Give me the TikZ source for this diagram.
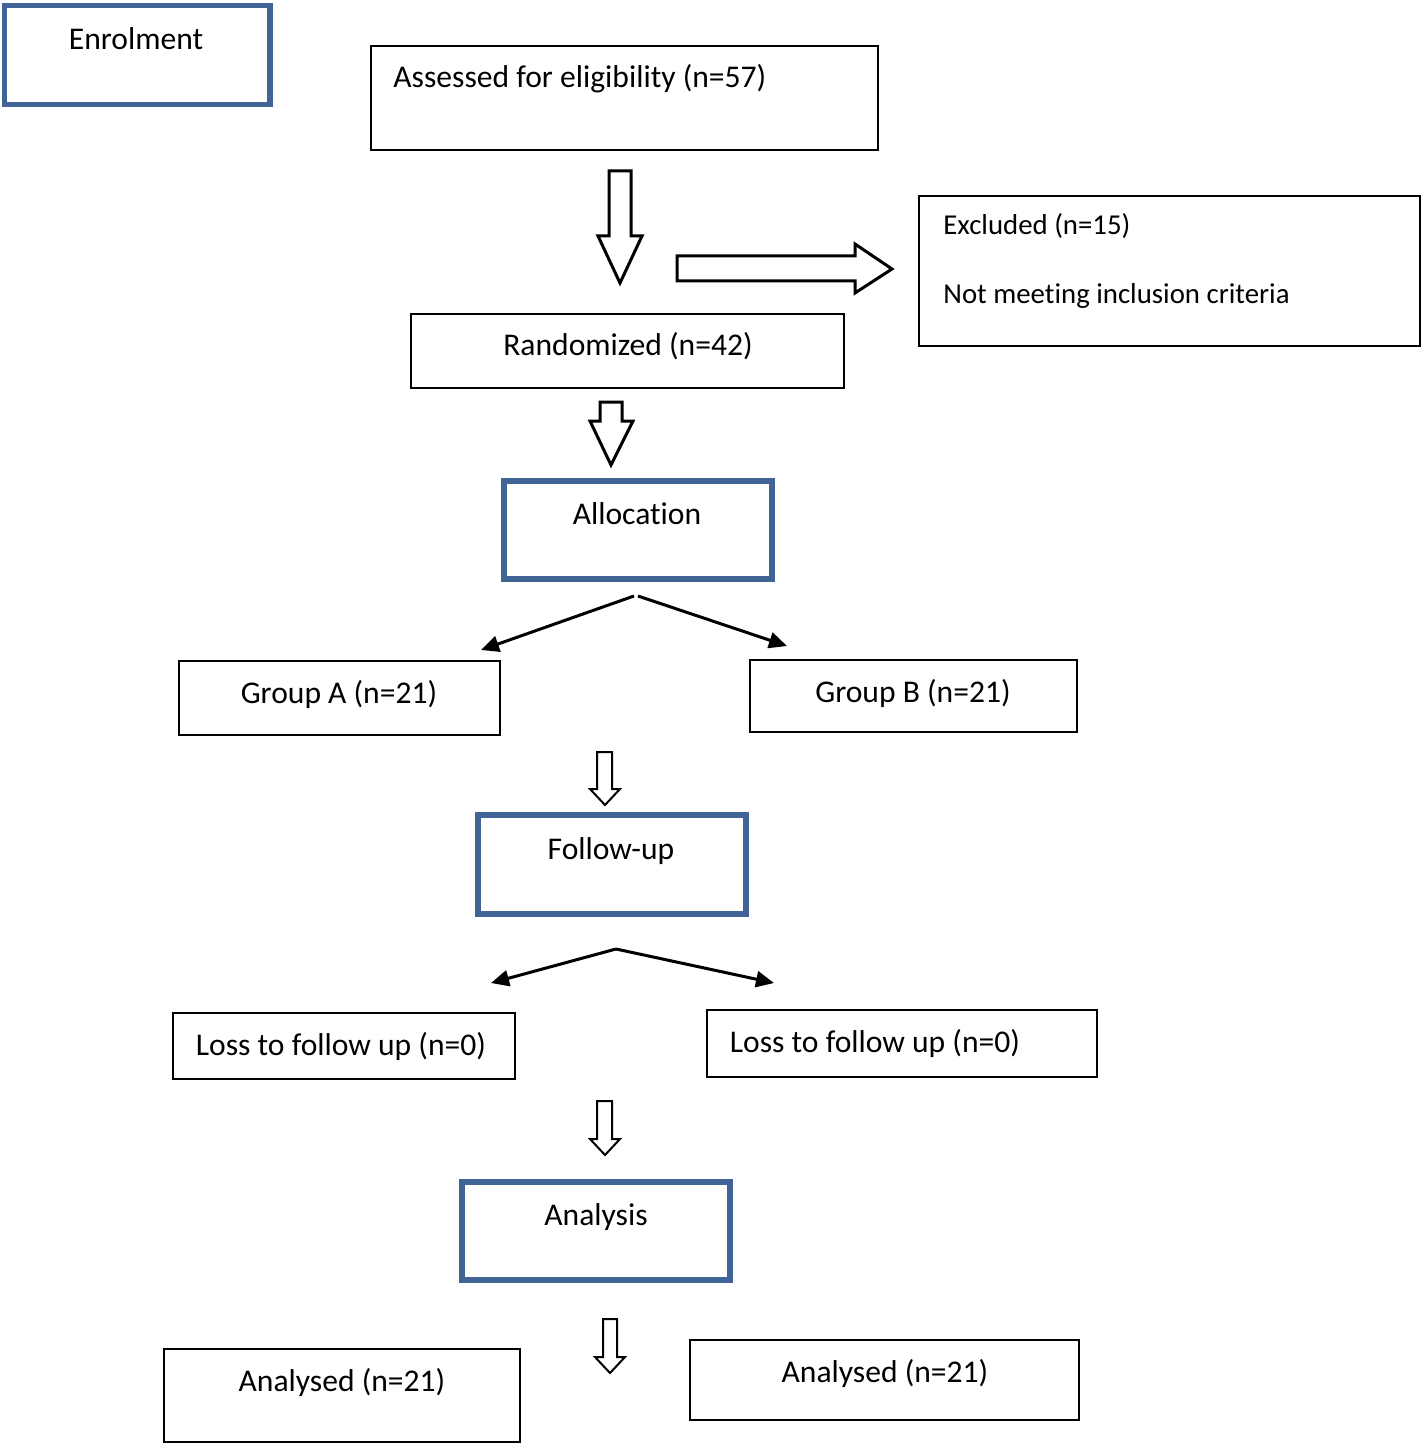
\documentclass[tikz,border=0pt]{standalone}
\usepackage{fontspec}
\setmainfont[Ligatures={NoCommon}]{Carlito}
\usetikzlibrary{fit,arrows.meta}
\definecolor{boxblue}{RGB}{65,100,150}
\tikzset{
  bbox/.style={draw=black, line width=1pt, inner sep=0pt, fill=white},
  bluebox/.style={draw=boxblue, line width=2.6pt, inner sep=0pt, fill=white},
  txt/.style={inner sep=0pt, anchor=base, font=\fontsize{15.8}{19}\selectfont},
  ltxt/.style={txt, anchor=base west},
  stxt/.style={inner sep=0pt, anchor=base west, font=\fontsize{14.4}{17}\selectfont},
  blockarrow/.style={draw=black, line width=1.5pt, fill=white, line join=miter},
  smallarrow/.style={draw=black, line width=1pt, fill=white, line join=miter},
  branch/.style={draw=black, line width=1.5pt, -{Triangle[length=9pt,width=8pt]}}
}
\begin{document}
\begin{tikzpicture}[x=0.5pt,y=-0.5pt]
\useasboundingbox (0,0) rectangle (1422,1444);
\fill[white] (0,0) rectangle (1422,1444);

% boxes
\node[bluebox, fit={(4.5,5.5) (270,104.5)}] (enrol) {};
\node[bbox, fit={(371,46) (878,150)}] (assess) {};
\node[bbox, fit={(919,196) (1420,346)}] (excl) {};
\node[bbox, fit={(411,314) (844,388)}] (rand) {};
\node[bluebox, fit={(504,481) (772,579)}] (alloc) {};
\node[bbox, fit={(179,661) (500,735)}] (ga) {};
\node[bbox, fit={(750,660) (1077,732)}] (gb) {};
\node[bluebox, fit={(478,815) (746,914)}] (follow) {};
\node[bbox, fit={(173,1013) (515,1079)}] (lossa) {};
\node[bbox, fit={(707,1010) (1097,1077)}] (lossb) {};
\node[bluebox, fit={(462,1182) (730,1280)}] (analysis) {};
\node[bbox, fit={(164,1349) (520,1442)}] (ana) {};
\node[bbox, fit={(690,1340) (1079,1420)}] (anb) {};

% texts
\node[txt] (enrolT) at (136,50) {Enrolment};
\node[ltxt] (assessT) at (393,88) {Assessed for eligibility (n=57)};
\node[stxt] (exclT1) at (943,235) {Excluded (n=15)};
\node[stxt] (exclT2) at (943,304) {Not meeting inclusion criteria};
\node[txt] (randT) at (628,356) {Randomized (n=42)};
\node[txt] (allocT) at (637,524) {Allocation};
\node[txt] (gaT) at (339,703) {Group A (n=21)};
\node[txt] (gbT) at (913,702) {Group B (n=21)};
\node[txt] (followT) at (611,859) {Follow-up};
\node[txt] (lossaT) at (341,1055) {Loss to follow up (n=0)};
\node[txt] (lossbT) at (875,1052) {Loss to follow up (n=0)};
\node[txt] (analysisT) at (596,1225) {Analysis};
\node[txt] (anaT) at (342,1391) {Analysed (n=21)};
\node[txt] (anbT) at (885,1382) {Analysed (n=21)};

% block arrows
\draw[blockarrow] (609,171) -- (631,171) -- (631,236) -- (642,236) -- (620,283) -- (598,236) -- (609,236) -- cycle;
\draw[blockarrow] (677,256) -- (855,256) -- (855,244) -- (892,269) -- (855,293) -- (855,281) -- (677,281) -- cycle;
\draw[blockarrow] (600,402) -- (622,402) -- (622,421) -- (633,421) -- (611,465) -- (590,421) -- (600,421) -- cycle;
\draw[smallarrow] (597,752) -- (612,752) -- (612,789) -- (620,789) -- (605,805) -- (590,789) -- (597,789) -- cycle;
\draw[smallarrow] (597,1101) -- (612,1101) -- (612,1139) -- (620,1139) -- (605,1155) -- (590,1139) -- (597,1139) -- cycle;
\draw[smallarrow] (603,1319) -- (617,1319) -- (617,1357) -- (625,1357) -- (610,1373) -- (595,1357) -- (603,1357) -- cycle;

% branching arrows
\coordinate (s1l) at (634,596);
\coordinate (s1r) at (638,596);
\coordinate (t1l) at (481,650);
\coordinate (t1r) at (787,646);
\draw[branch] (s1l) -- (t1l);
\draw[branch] (s1r) -- (t1r);
\coordinate (s2) at (616,949);
\coordinate (t2l) at (491,983);
\coordinate (t2r) at (774,983);
\draw[branch] (s2) -- (t2l);
\draw[branch] (s2) -- (t2r);
\end{tikzpicture}
\end{document}
